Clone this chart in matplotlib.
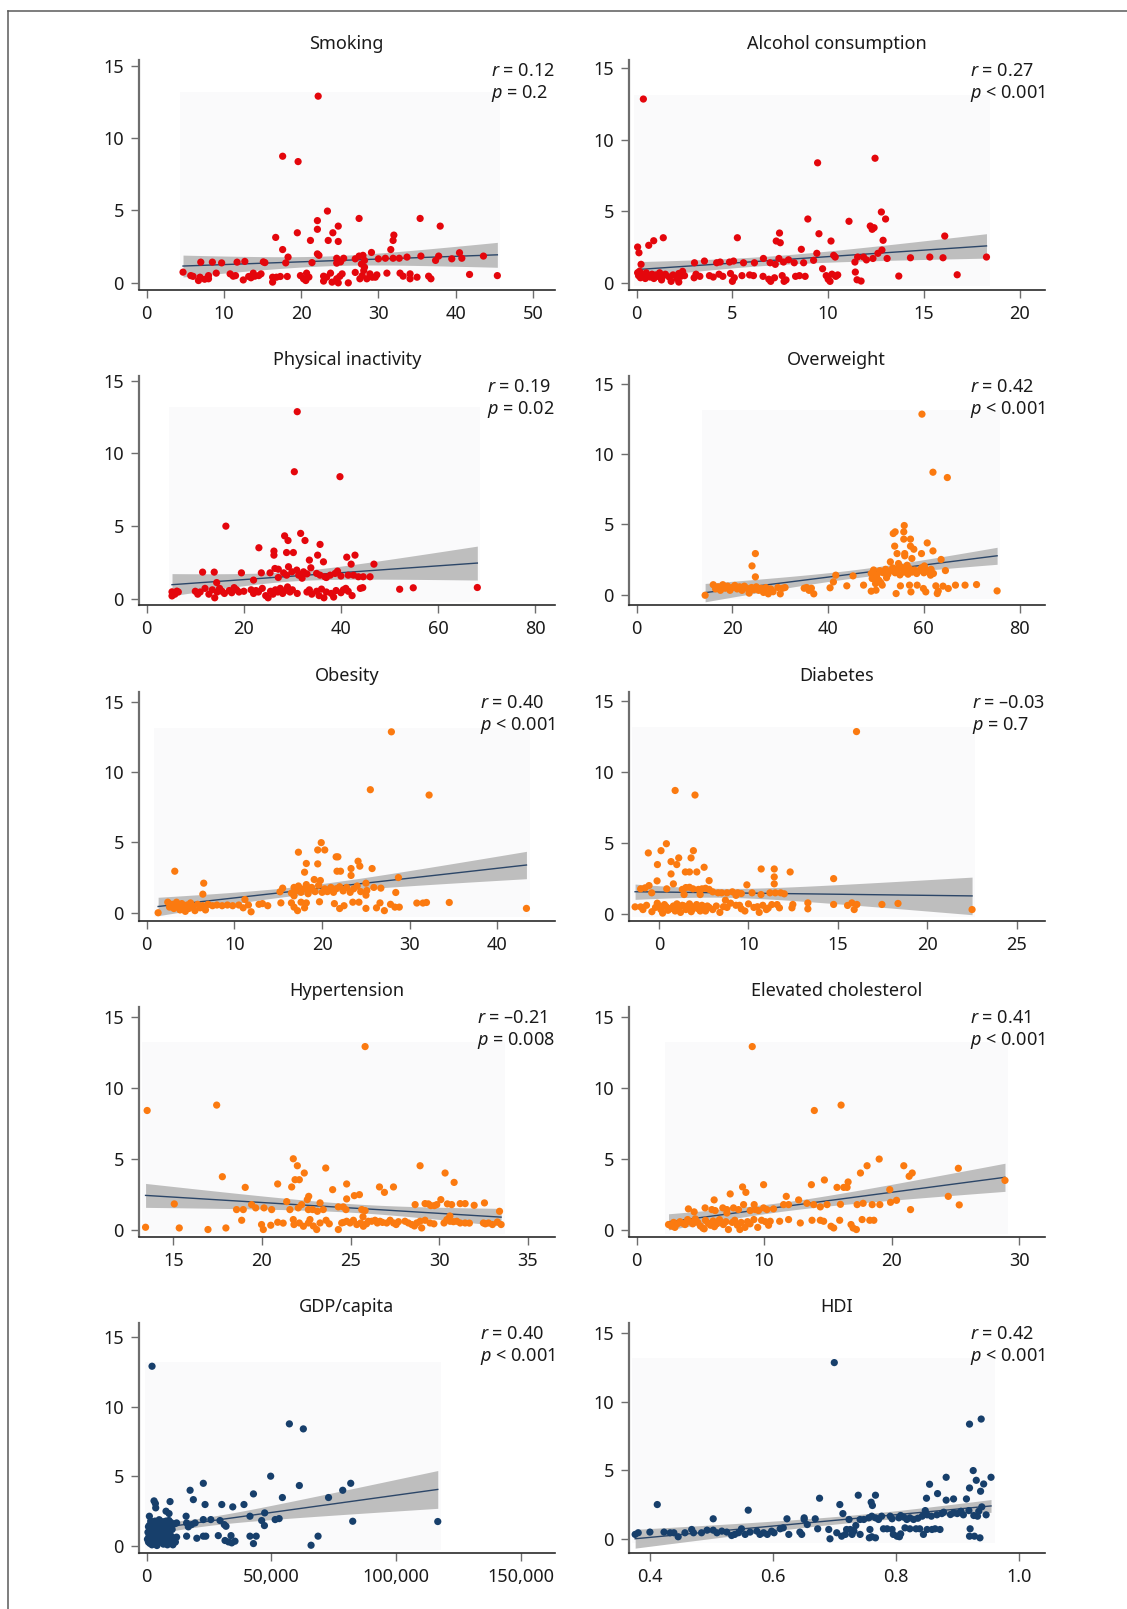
import numpy as np
import matplotlib
matplotlib.use("Agg")
import matplotlib.pyplot as plt
from matplotlib.lines import Line2D
from matplotlib.patches import Rectangle
from matplotlib.ticker import FuncFormatter

plt.rcParams["font.family"] = ["Noto Sans", "DejaVu Sans"]
plt.rcParams["mathtext.fontset"] = "custom"
plt.rcParams["mathtext.rm"] = "Noto Sans"
plt.rcParams["mathtext.it"] = "Noto Sans:italic"

# ---------------------------------------------------------------- data
smoking_x = [22.2, 17.6, 19.6, 23.4, 27.5, 35.4, 22.1, 38.0, 24.8, 22.1, 19.5, 24.1, 16.7, 32.0, 31.9,
             21.2, 23.5, 24.8, 17.6, 29.1, 31.6, 22.1, 40.5, 35.5, 37.8, 43.6, 18.3, 27.5, 27.0, 28.2,
             24.6, 25.5, 30.0, 30.9, 31.9, 32.7, 33.7, 39.5, 40.8, 37.4, 21.4, 18.0, 15.1, 25.1, 7.0,
             8.5, 9.7, 11.7, 12.7, 27.8, 28.2, 24.6, 28.0, 22.3, 15.3,
             4.7, 5.7, 6.0, 6.9, 6.7, 8.0, 9.0, 8.0, 10.8, 11.2, 11.5, 12.5, 13.2, 13.8, 14.0,
             14.5, 14.8, 16.3, 16.3, 16.8, 17.3, 18.2, 19.9, 20.3, 20.6, 20.7, 22.9, 22.9, 23.3, 23.8,
             24.0, 24.6, 24.8, 25.3, 26.1, 27.0, 27.6, 28.1, 28.5, 28.9, 29.2, 29.6, 31.1, 32.8, 33.2,
             34.1, 34.1, 35.0, 36.5, 36.8, 41.8, 45.4, 7.5, 13.5, 21.0, 25.0, 27.9, 29.8]
smoking_y = [12.9, 8.75, 8.38, 4.96, 4.45, 4.45, 4.3, 3.92, 3.92, 3.7, 3.46, 3.46, 3.14, 3.3, 2.93,
             2.93, 2.93, 2.86, 2.3, 2.1, 2.3, 2.0, 2.08, 1.85, 1.85, 1.85, 1.78, 1.85, 1.66, 1.55,
             1.7, 1.7, 1.66, 1.7, 1.7, 1.7, 1.78, 1.66, 1.7, 1.55, 1.4, 1.38, 1.45, 1.45, 1.43,
             1.43, 1.38, 1.43, 1.48, 1.3, 1.08, 1.36, 1.9, 1.9, 1.4,
             0.74, 0.5, 0.45, 0.39, 0.16, 0.28, 0.67, 0.5, 0.62, 0.46, 0.5, 0.2, 0.44, 0.67, 0.46,
             0.5, 0.62, 0.39, 0.05, 0.39, 0.44, 0.44, 0.5, 0.28, 0.16, 0.67, 0.46, 0.12, 0.39, 0.67,
             0.05, 0.28, 0.0, 0.62, 0.0, 0.72, 0.28, 0.85, 0.28, 0.62, 0.39, 0.39, 0.67, 0.67, 0.46,
             0.62, 0.28, 0.39, 0.46, 0.28, 0.58, 0.5, 0.25, 0.35, 0.4, 0.45, 0.5, 0.55]

alcohol_x = [0.35, 9.45, 12.45, 12.78, 13.0, 11.09, 8.94, 12.2, 12.3, 12.4, 9.52, 7.46, 5.26, 1.39, 0.89,
             0.63, 0.05, 0.12, 0.23, 7.29, 7.5, 10.15, 12.87, 16.09, 8.6, 9.41, 12.81, 12.6, 10.29, 10.37,
             11.54, 18.27, 15.31, 16.0, 14.3, 13.08, 12.34, 11.85, 7.43, 6.62, 9.24, 8.72, 8.23, 7.93, 7.67,
             7.24, 6.97, 6.15, 5.58, 5.06, 4.85, 4.36, 4.18, 3.54, 3.02, 9.71, 11.42, 13.69, 16.74, 11.51,
             11.72, 12.0, 11.4,
             0.05, 0.1, 0.15, 0.2, 0.3, 0.35, 0.45, 0.5, 0.6, 0.7, 0.8, 0.9, 1.0, 1.1, 1.2,
             1.3, 1.4, 1.5, 1.7, 1.8, 1.9, 2.1, 2.2, 2.3, 2.4, 2.5, 2.2, 3.0, 3.1, 3.3,
             3.8, 4.0, 4.3, 4.5, 4.9, 5.0, 5.1, 5.5, 5.9, 6.1, 6.6, 6.9, 7.0, 7.2, 7.6,
             7.8, 7.7, 8.3, 8.5, 8.8, 9.9, 10.0, 10.2, 10.1, 10.4, 10.5]
alcohol_y = [12.85, 8.39, 8.71, 4.95, 4.46, 4.3, 4.46, 3.97, 3.74, 3.85, 3.43, 3.48, 3.15, 3.15, 2.94,
             2.62, 2.5, 2.1, 1.29, 2.92, 2.8, 2.92, 2.97, 3.27, 2.34, 2.06, 2.29, 2.06, 1.92, 1.8,
             1.8, 1.8, 1.8, 1.75, 1.75, 1.7, 1.7, 1.8, 1.7, 1.7, 1.57, 1.4, 1.4, 1.61, 1.45,
             1.29, 1.4, 1.4, 1.4, 1.52, 1.45, 1.45, 1.4, 1.52, 1.4, 0.98, 0.75, 0.47, 0.56, 0.21,
             0.12, 1.6, 1.45,
             0.7, 0.5, 0.8, 0.35, 0.6, 0.45, 0.3, 0.7, 0.5, 0.4, 0.6, 0.3, 0.55, 0.45, 0.7,
             0.2, 0.5, 0.6, 0.4, 0.1, 0.55, 0.3, 0.65, 0.45, 0.8, 0.5, 0.05, 0.35, 0.6, 0.45,
             0.5, 0.4, 0.6, 0.45, 0.65, 0.1, 0.35, 0.5, 0.55, 0.5, 0.45, 0.25, 0.1, 0.35, 0.5,
             0.2, 0.1, 0.45, 0.5, 0.45, 0.5, 0.25, 0.6, 0.1, 0.45, 0.55]

inactivity_x = [31.0, 30.4, 39.8, 16.3, 28.4, 31.7, 29.1, 32.6, 23.1, 35.7, 26.2, 26.2, 28.8, 30.2, 42.9,
                41.2, 35.2, 33.5, 36.4, 46.8, 42.1, 33.8, 26.4, 29.2, 30.9, 11.5, 13.9, 19.5, 23.6, 25.4,
                27.1, 28.2, 28.8, 29.9, 32.3, 31.3, 35.0, 35.7, 36.7, 37.8, 38.8, 39.3, 41.5, 42.6, 43.6,
                44.6, 46.0, 27.1, 22.0, 14.4, 52.1, 54.9, 68.1, 32.0, 37.0, 40.0, 33.0,
                5.2, 5.2, 6.2, 5.8, 6.5, 10.0, 10.5, 11.0, 12.0, 12.8, 13.5, 14.0, 14.5, 15.0, 15.5,
                16.0, 17.0, 17.5, 18.0, 18.5, 19.0, 20.0, 21.5, 22.0, 22.5, 23.0, 23.8, 24.5, 25.0, 25.5,
                26.0, 26.5, 27.0, 27.5, 28.0, 28.5, 29.0, 29.5, 30.0, 31.0, 33.0, 33.5, 34.0, 35.0, 35.5,
                36.0, 36.5, 37.0, 38.0, 38.5, 39.0, 40.0, 40.5, 41.0, 41.5, 42.3, 44.0, 44.5]
inactivity_y = [12.88, 8.74, 8.4, 4.99, 4.32, 4.49, 4.0, 4.0, 3.5, 3.73, 3.27, 2.99, 3.17, 3.17, 2.99,
                2.85, 2.99, 2.65, 2.53, 2.37, 2.37, 2.12, 2.07, 2.19, 1.96, 1.82, 1.82, 1.77, 1.77, 1.77,
                2.02, 1.77, 1.61, 1.84, 1.84, 1.61, 1.73, 1.61, 1.5, 1.61, 1.73, 1.89, 1.61, 1.61, 1.5,
                1.5, 1.5, 1.45, 1.27, 1.1, 0.64, 0.74, 0.76, 1.4, 1.45, 1.55, 1.7,
                0.46, 0.18, 0.51, 0.3, 0.45, 0.5, 0.3, 0.45, 0.7, 0.3, 0.6, 0.05, 0.45, 0.7, 0.5,
                0.35, 0.55, 0.4, 0.75, 0.6, 0.45, 0.5, 0.6, 0.35, 0.55, 0.45, 0.7, 0.2, 0.05, 0.5,
                0.3, 0.6, 0.45, 0.7, 0.35, 0.55, 0.8, 0.45, 0.6, 0.35, 0.45, 0.6, 0.3, 0.5, 0.2,
                0.65, 0.05, 0.45, 0.35, 0.1, 0.55, 0.4, 0.6, 0.7, 0.5, 0.2, 0.7, 0.75]

overweight_x = [59.6, 61.9, 64.9, 55.9, 53.6, 54.0, 55.8, 55.8, 57.2, 53.9, 57.2, 57.9, 60.7, 61.9, 54.4,
                56.0, 59.5, 56.0, 57.5, 24.8, 24.1, 24.8, 63.6, 53.0, 54.7, 56.5, 60.1, 64.5, 61.4, 41.6,
                45.2, 47.4, 43.9, 41.1, 40.4, 49.0, 49.5, 50.2, 50.8, 51.5, 52.0, 52.5, 53.0, 53.5, 54.0,
                54.5, 55.0, 55.3, 55.8, 56.2, 56.7, 57.0, 57.5, 58.0, 58.5, 59.0, 59.5, 60.0, 60.5, 61.0,
                61.5, 62.0, 52.2, 50.3, 51.0,
                14.3, 16.0, 16.5, 17.0, 17.5, 18.0, 18.5, 19.0, 19.5, 20.0, 20.5, 21.0, 21.5, 22.0, 22.5,
                23.0, 23.5, 24.0, 24.5, 25.0, 25.5, 26.0, 26.5, 27.0, 27.5, 28.0, 28.5, 29.5, 30.0, 30.5,
                31.0, 35.0, 35.5, 36.0, 36.5, 37.0, 66.6, 68.6, 71.0, 75.3, 54.2, 57.3, 62.8, 65.1, 62.5,
                59.9, 60.4, 58.6, 57.0, 55.1, 49.0, 50.0, 49.9, 51.3, 49.2, 50.6, 64.0, 63.0]
overweight_y = [12.86, 8.72, 8.34, 4.92, 4.35, 4.47, 4.47, 3.95, 3.95, 3.45, 3.45, 3.23, 3.68, 3.11, 2.92,
                2.92, 2.92, 2.76, 2.57, 2.92, 2.04, 1.26, 2.5, 2.33, 2.21, 2.09, 2.04, 1.71, 1.38, 1.38,
                1.33, 0.67, 0.62, 0.9, 0.48, 1.5, 1.75, 1.4, 1.7, 1.55, 1.8, 1.45, 1.7, 1.9, 1.55,
                1.8, 1.4, 1.95, 1.6, 1.75, 1.45, 1.85, 1.6, 1.75, 1.5, 1.7, 1.9, 1.55, 1.75, 1.6,
                1.8, 1.5, 1.2, 1.0, 0.85,
                -0.05, 0.7, 0.4, 0.55, 0.3, 0.7, 0.45, 0.6, 0.3, 0.5, 0.65, 0.4, 0.55, 0.3, 0.6,
                0.45, 0.1, 0.5, 0.35, 0.55, 0.3, 0.45, 0.15, 0.5, 0.05, 0.4, 0.2, 0.5, 0.05, 0.45,
                0.5, 0.45, 0.5, 0.3, 0.45, 0.05, 0.67, 0.67, 0.71, 0.26, 0.07, 0.19, 0.07, 0.43, 0.62,
                0.43, 0.19, 0.67, 0.67, 0.62, 0.24, 0.31, 0.78, 0.67, 1.14, 1.02, 0.6, 0.25]

obesity_x = [27.9, 25.5, 32.2, 19.9, 19.5, 20.3, 17.3, 19.5, 18.2, 21.6, 21.8, 24.1, 24.3, 23.3, 25.7,
             21.7, 22.1, 18.0, 3.2, 23.3, 28.7, 19.1, 19.8, 6.5, 25.0, 6.4, 15.5, 15.2, 25.9, 26.7,
             28.4, 25.1, 25.0, 11.2,
             16.5, 16.8, 17.0, 17.3, 17.6, 17.9, 18.2, 18.5, 18.8, 19.2, 19.6, 20.0, 20.3, 20.6, 21.0,
             21.3, 21.6, 22.0, 22.4, 22.8, 23.2, 23.6, 24.0, 24.4, 16.8, 18.4,
             1.3, 2.4, 2.6, 2.9, 3.1, 3.4, 3.6, 3.8, 4.0, 4.2, 4.4, 4.6, 4.8, 5.0, 5.2,
             5.5, 5.8, 6.1, 6.4, 6.7, 7.0, 7.5, 8.0, 8.6, 9.2, 9.8, 10.5, 11.0, 11.6, 11.9,
             12.8, 13.2, 13.8, 15.3, 16.5, 16.8, 17.2, 17.6, 18.0, 18.2, 19.7, 21.4, 22.0, 22.5, 23.5,
             24.2, 25.0, 26.2, 26.6, 27.1, 27.8, 28.3, 28.8, 30.8, 31.5, 31.9, 34.5, 43.3]
obesity_y = [12.85, 8.74, 8.36, 4.98, 4.46, 4.46, 4.3, 3.47, 3.5, 3.97, 3.97, 3.66, 3.31, 3.14, 3.14,
             2.95, 2.95, 2.88, 2.95, 2.65, 2.5, 2.36, 2.29, 2.1, 2.1, 1.32, 1.75, 1.49, 1.8, 1.75,
             1.44, 1.58, 1.25, 0.94,
             1.4, 1.8, 1.55, 1.9, 1.45, 1.7, 2.0, 1.6, 1.8, 1.5, 1.95, 1.45, 1.7, 1.5, 1.8,
             1.45, 1.7, 1.85, 1.55, 1.8, 1.45, 1.7, 1.9, 1.5, 1.2, 1.35,
             0.0, 0.75, 0.4, 0.6, 0.3, 0.75, 0.5, 0.2, 0.65, 0.4, 0.1, 0.55, 0.3, 0.7, 0.45,
             0.15, 0.6, 0.35, 0.5, 0.2, 0.6, 0.5, 0.55, 0.5, 0.55, 0.5, 0.55, 0.35, 0.55, 0.07,
             0.6, 0.65, 0.5, 0.7, 0.7, 0.4, 0.15, 0.75, 0.35, 0.7, 0.78, 0.65, 0.3, 0.5, 0.75,
             0.75, 0.31, 0.35, 0.7, 0.15, 0.6, 0.4, 0.4, 0.69, 0.69, 0.73, 0.73, 0.31]

diabetes_x = [16.04, 5.9, 7.01, 5.41, 4.4, 5.11, 6.92, 6.1, 6.79, 5.67, 5.99, 4.91, 7.52, 10.71, 11.44,
              12.33, 6.47, 6.7, 7.11, 5.67, 11.44, 14.76, 4.89, 7.8, 11.44, 9.91, 5.8, 4.44, 4.22, 3.97,
              5.43, 4.59, 8.71,
              6.3, 6.5, 6.7, 6.9, 7.2, 7.4, 7.6, 7.8, 6.4, 7.3,
              8.0, 8.3, 8.5, 8.8, 9.1, 9.4, 9.6, 10.2, 10.7, 11.2, 11.5, 11.8, 12.0, 9.3,
              3.66, 3.97, 4.9, 5.0, 5.1, 5.2, 5.4, 5.6, 5.8, 5.9, 6.1, 6.3, 6.5, 6.7, 6.8,
              7.0, 7.2, 7.4, 7.6, 7.8, 8.2, 8.4, 8.6, 9.0, 9.3, 9.6, 10.0, 10.3, 10.6, 10.8,
              11.0, 11.3, 11.6, 13.32, 13.32, 12.48, 12.43, 11.73, 14.76, 15.54, 15.78, 16.06, 15.91, 17.46, 18.36,
              22.5,
              4.1, 4.3, 4.6, 4.8, 5.3, 5.5, 5.7, 6.0, 6.2, 6.4, 6.6, 6.9, 7.1, 7.3, 7.5,
              7.7, 8.0, 8.8, 9.5, 9.8, 10.5, 11.1]
diabetes_y = [12.84, 8.69, 8.37, 4.94, 4.29, 4.45, 4.45, 3.94, 3.94, 3.68, 3.47, 3.47, 3.28, 3.16, 3.16,
              2.95, 2.95, 2.95, 2.95, 2.81, 2.6, 2.48, 2.32, 2.34, 2.11, 2.04, 2.11, 1.99, 1.83, 1.76,
              1.76, 1.48, 0.96,
              1.72, 1.85, 1.87, 1.76, 1.72, 1.76, 1.8, 1.72, 1.36, 1.36,
              1.55, 1.48, 1.48, 1.48, 1.55, 1.48, 1.43, 1.48, 1.36, 1.48, 1.48, 1.48, 1.41, 1.3,
              0.49, 0.49, 0.75, 0.55, 0.3, 0.05, 0.5, 0.35, 0.55, 0.2, 0.45, 0.6, 0.3, 0.7, 0.15,
              0.5, 0.35, 0.6, 0.2, 0.45, 0.55, 0.1, 0.5, 0.75, 0.6, 0.35, 0.7, 0.45, 0.1, 0.6,
              0.3, 0.65, 0.65, 0.77, 0.35, 0.66, 0.42, 0.42, 0.66, 0.59, 0.77, 0.66, 0.3, 0.66, 0.73,
              0.3,
              0.3, 0.6, 0.15, 0.45, 0.65, 0.25, 0.4, 0.7, 0.1, 0.55, 0.45, 0.35, 0.65, 0.2, 0.4,
              0.55, 0.3, 0.45, 0.6, 0.2, 0.5, 0.4]

hypertension_x = [25.82, 13.53, 17.45, 21.77, 22.0, 28.92, 23.6, 22.39, 30.33, 17.77, 21.87, 22.11, 30.84, 24.78, 20.89,
                  19.06, 21.68, 26.63, 27.42, 23.99, 26.91, 25.5, 25.21, 22.64, 22.56, 24.78, 30.09, 21.4, 15.06, 19.42,
                  23.28, 28.64, 29.2, 29.39, 29.86, 30.46, 30.7, 31.18, 31.46, 31.97, 32.55, 29.73, 29.52, 18.57, 18.95,
                  19.65, 20.12, 20.55, 21.58, 22.05, 22.24, 22.62, 22.86, 23.13, 23.46, 24.31, 24.74, 24.59, 25.63, 25.82,
                  33.4, 18.86, 20.89, 13.44, 15.34, 16.96, 17.97, 19.98, 20.08, 30.6, 25.7,
                  21.77, 21.81, 22.11, 22.34, 22.62, 22.71, 23.09, 23.28, 23.62, 24.31, 24.5, 24.78, 24.97, 25.16, 25.35,
                  25.57, 25.72, 26.0, 26.19, 26.38, 26.51, 26.66, 27.04, 27.23, 27.42, 27.57, 28.07, 28.26, 28.45, 28.73,
                  28.92, 29.01, 29.2, 29.48, 30.27, 30.43, 30.61, 30.99, 31.18, 31.46, 32.49, 32.78, 33.28, 33.49,
                  20.5, 21.2, 22.9, 23.8, 24.6, 25.9, 26.8, 27.7, 28.6, 29.7, 30.8, 31.7, 32.6, 33.0]
hypertension_y = [12.9, 8.41, 8.79, 5.02, 4.53, 4.53, 4.37, 4.02, 4.02, 3.76, 3.55, 3.55, 3.36, 3.25, 3.25,
                  3.01, 3.04, 3.04, 3.04, 2.85, 2.66, 2.5, 2.43, 2.38, 2.15, 2.2, 2.15, 2.01, 1.85, 1.8,
                  1.92, 1.8, 1.87, 1.85, 1.8, 1.85, 1.8, 1.87, 1.87, 1.75, 1.92, 1.73, 1.73, 1.45, 1.45,
                  1.57, 1.57, 1.45, 1.45, 1.57, 1.8, 1.45, 1.45, 1.33, 1.45, 1.64, 1.45, 1.64, 1.45, 1.38,
                  1.33, 0.7, 0.56, 0.21, 0.16, 0.05, 0.16, 0.4, 0.05, 1.0, 0.95,
                  0.75, 0.4, 0.51, 0.28, 0.51, 0.75, 0.05, 0.51, 0.7, 0.05, 0.51, 0.63, 0.51, 0.7, 0.4,
                  0.51, 0.28, 0.63, 0.63, 0.7, 0.51, 0.63, 0.51, 0.7, 0.51, 0.4, 0.63, 0.51, 0.4, 0.51,
                  0.63, 0.16, 0.7, 0.51, 0.51, 0.75, 0.63, 0.63, 0.51, 0.51, 0.51, 0.51, 0.58, 0.4,
                  0.35, 0.5, 0.3, 0.45, 0.55, 0.45, 0.55, 0.6, 0.3, 0.45, 0.6, 0.5, 0.45, 0.4]

cholesterol_x = [9.07, 13.94, 16.04, 19.03, 20.96, 18.08, 25.24, 17.56, 21.62, 21.38, 14.73, 28.9, 16.59, 13.71, 9.96,
                 15.72, 16.25, 16.51, 8.31, 19.86, 8.57, 7.34, 24.45, 11.74, 6.08, 12.71, 20.39, 19.92, 25.31, 15.99,
                 14.94, 13.36, 13.89, 17.3, 17.77, 18.48, 19.08, 11.92, 11.53, 9.22, 8.39, 21.49, 14.41, 10.74,
                 4.06, 4.51, 5.37, 5.9, 6.16, 6.76, 7.08, 7.6, 7.99, 8.91, 9.3, 9.56, 9.96, 10.22, 7.08,
                 12.84, 13.76, 14.41, 14.67, 15.93, 15.25, 15.46, 16.82, 16.98, 17.24, 17.69, 18.29, 18.61, 11.22, 10.48,
                 10.35, 11.92,
                 2.5, 2.7, 2.9, 3.0, 3.2, 3.4, 3.6, 3.8, 4.0, 4.2, 4.4, 4.6, 4.8, 5.0, 5.2,
                 5.4, 5.6, 5.8, 6.0, 6.3, 6.5, 6.8, 7.0, 7.2, 7.5, 7.7, 7.9, 8.1, 8.2, 8.5,
                 8.7, 8.9, 9.2, 9.5, 9.8, 10.1, 5.3, 6.1]
cholesterol_y = [12.9, 8.41, 8.79, 5.0, 4.53, 4.53, 4.35, 4.02, 4.02, 3.79, 3.53, 3.5, 3.39, 3.2, 3.2,
                 3.01, 3.01, 3.01, 3.04, 2.85, 2.66, 2.55, 2.38, 2.38, 2.13, 2.13, 2.1, 1.96, 1.78, 1.82,
                 1.8, 1.89, 1.8, 1.8, 1.89, 1.8, 1.8, 1.8, 1.8, 1.8, 1.8, 1.45, 1.64, 1.5,
                 1.5, 1.29, 1.57, 1.45, 1.38, 1.57, 1.45, 1.57, 1.45, 1.38, 1.45, 1.38, 1.57, 1.45, 1.21,
                 0.51, 0.7, 0.7, 0.63, 0.7, 0.28, 0.16, 0.4, 0.16, 0.05, 0.75, 0.7, 0.7, 0.63, 0.63,
                 0.35, 0.75,
                 0.4, 0.3, 0.55, 0.2, 0.45, 0.6, 0.5, 0.4, 0.75, 0.6, 0.45, 0.8, 0.55, 0.3, 0.15,
                 0.7, 0.5, 0.35, 0.65, 0.45, 0.75, 0.4, 0.6, 0.05, 0.55, 0.7, 0.35, 0.05, 0.55, 0.2,
                 0.6, 0.45, 0.75, 0.2, 0.7, 0.6, 0.1, 0.25]

gdp_x = [2140, 57200, 62800, 49700, 22700, 61200, 81800, 42800, 17400, 78600, 54400, 72900, 18700, 2940, 3480,
         9360, 3610, 23400, 30100, 34500, 39000, 7750, 8960, 47300, 1070, 15800, 41400, 25700, 22700, 51500,
         53100, 29400, 46100, 82600, 116700, 31100, 31800, 47200, 16000, 18000, 16700, 19400, 12000, 68700, 65900,
         42800, 41400, 43900, 33800, 28700, 22700, 23700, 20100, 16000, 31400, 32800, 34100, 35400,
         300, 500, 700, 900, 1100, 1300, 1500, 1700, 1900, 2100, 2300, 2500, 2700, 2900, 3100,
         3300, 3500, 3700, 3900, 4100, 4300, 4500, 4700, 4900, 5100, 5300, 5500, 5700, 5900, 6100,
         6300, 6500, 6700, 6900, 7100, 7300, 7500, 7700, 7900, 8100, 8300, 8500, 8700, 8900, 9100,
         9300, 9500, 9700, 9900, 10200, 10500, 10800, 11100, 11500, 12000, 700, 1600, 2800, 4000, 5000,
         6000, 7000]
gdp_y = [12.9, 8.77, 8.41, 5.02, 4.51, 4.35, 4.51, 3.75, 4.01, 4.01, 3.49, 3.49, 3.34, 3.25, 3.06,
         3.2, 2.75, 2.99, 2.99, 2.82, 2.99, 2.51, 2.34, 2.39, 2.15, 2.15, 2.15, 1.91, 1.91, 1.91,
         1.98, 1.84, 1.84, 1.79, 1.77, 1.55, 1.43, 1.48, 1.67, 1.55, 1.39, 1.67, 1.67, 0.72, 0.07,
         0.19, 0.72, 0.72, 0.76, 0.76, 0.72, 0.72, 0.57, 0.72, 0.41, 0.31, 0.24, 0.36,
         0.5, 1.0, 0.3, 0.7, 1.5, 0.2, 0.9, 0.5, 1.2, 0.1, 0.8, 1.6, 0.4, 1.0, 0.6,
         1.8, 0.2, 1.3, 0.7, 0.05, 1.1, 1.7, 0.4, 0.9, 1.4, 0.6, 1.8, 0.3, 1.0, 1.6,
         0.5, 1.2, 0.15, 1.75, 0.8, 1.4, 0.4, 1.8, 0.7, 1.1, 0.1, 1.5, 0.6, 1.85, 0.3,
         1.3, 0.8, 1.7, 0.5, 1.2, 0.1, 0.6, 1.6, 0.3, 0.65, 1.4, 1.8, 1.5, 0.3, 1.9,
         0.85, 0.55]

hdi_x = [0.700, 0.920, 0.939, 0.926, 0.955, 0.882, 0.931, 0.855, 0.943, 0.920, 0.938, 0.868, 0.739, 0.767, 0.676,
         0.850, 0.882, 0.894, 0.915, 0.760, 0.762, 0.709, 0.412, 0.560, 0.940, 0.935, 0.919, 0.906, 0.894, 0.878,
         0.848, 0.947, 0.503, 0.623, 0.651, 0.651, 0.669, 0.714, 0.724, 0.735, 0.742,
         0.748, 0.756, 0.761, 0.767, 0.772, 0.777, 0.791, 0.794, 0.805, 0.808, 0.813, 0.818, 0.823, 0.829, 0.836,
         0.843, 0.851, 0.858, 0.867, 0.875, 0.889, 0.900, 0.910, 0.927, 0.933,
         0.376, 0.381, 0.400, 0.423, 0.433, 0.439, 0.446, 0.457, 0.468, 0.471, 0.484, 0.493, 0.503, 0.509, 0.517,
         0.525, 0.533, 0.538, 0.544, 0.549, 0.555, 0.563, 0.574, 0.579, 0.585, 0.591, 0.598, 0.602, 0.612, 0.617,
         0.626, 0.644, 0.647, 0.656, 0.673, 0.691, 0.693, 0.704, 0.712, 0.718, 0.720, 0.726, 0.729, 0.732, 0.742,
         0.758, 0.757, 0.761, 0.767, 0.780, 0.786, 0.794, 0.796, 0.802, 0.806, 0.808, 0.815, 0.823, 0.833, 0.839,
         0.845, 0.851, 0.859, 0.864, 0.872, 0.921, 0.920, 0.928, 0.937]
hdi_y = [12.86, 8.37, 8.74, 4.98, 4.49, 4.49, 4.27, 3.98, 4.0, 3.71, 3.47, 3.3, 3.18, 3.18, 2.96,
         2.96, 2.82, 2.91, 2.91, 2.67, 2.43, 2.5, 2.5, 2.09, 2.33, 2.01, 2.06, 2.01, 1.89, 1.94,
         2.06, 1.75, 1.46, 1.46, 1.53, 1.41, 1.46, 1.84, 1.41, 0.97, 1.41,
         1.41, 1.53, 1.65, 1.53, 1.41, 1.65, 1.65, 1.46, 1.53, 1.7, 1.58, 1.41, 1.53, 1.41, 1.5,
         1.65, 1.75, 1.65, 1.75, 1.84, 1.77, 1.84, 1.75, 1.7, 1.65,
         0.32, 0.44, 0.49, 0.49, 0.44, 0.44, 0.15, 0.44, 0.68, 0.44, 0.44, 0.63, 0.63, 0.44, 0.56,
         0.49, 0.24, 0.32, 0.44, 0.73, 0.32, 0.49, 0.56, 0.32, 0.44, 0.32, 0.56, 0.44, 0.73, 0.8,
         0.32, 0.49, 0.32, 1.04, 0.73, 0.68, 0.0, 0.44, 0.19, 0.32, 0.68, 0.68, 0.32, 0.56, 0.32,
         0.68, 0.07, 0.15, 0.07, 0.73, 0.73, 0.68, 0.32, 0.19, 0.15, 0.36, 0.8, 0.73, 0.73, 0.73,
         0.32, 0.68, 0.68, 0.73, 0.68, 0.73, 0.19, 0.19, 0.07]

titles = ["Smoking", "Alcohol consumption", "Physical inactivity", "Overweight", "Obesity",
          "Diabetes", "Hypertension", "Elevated cholesterol", "GDP/capita", "HDI"]
r_labels = ["0.12", "0.27", "0.19", "0.42", "0.40", "\u20130.03", "\u20130.21", "0.41", "0.40", "0.42"]
p_labels = ["= 0.2", "< 0.001", "= 0.02", "< 0.001", "< 0.001", "= 0.7", "= 0.008", "< 0.001", "< 0.001", "< 0.001"]
y_ticks = [0, 5, 10, 15]

RED, ORANGE, NAVY = "#e4060c", "#fb7a10", "#173f6b"

panels = [
    dict(x=smoking_x, y=smoking_y, c=RED, xlim=(-1.0, 52.8), ylim=(-0.46, 15.4),
         xt=[0, 10, 20, 30, 40, 50], xl=None),
    dict(x=alcohol_x, y=alcohol_y, c=RED, xlim=(-0.4, 21.3), ylim=(-0.47, 15.58),
         xt=[0, 5, 10, 15, 20], xl=None),
    dict(x=inactivity_x, y=inactivity_y, c=RED, xlim=(-1.6, 84.0), ylim=(-0.46, 15.36),
         xt=[0, 20, 40, 60, 80], xl=None),
    dict(x=overweight_x, y=overweight_y, c=ORANGE, xlim=(-1.6, 85.2), ylim=(-0.76, 15.6),
         xt=[0, 20, 40, 60, 80], xl=None),
    dict(x=obesity_x, y=obesity_y, c=ORANGE, xlim=(-0.88, 46.5), ylim=(-0.6, 15.7),
         xt=[0, 10, 20, 30, 40], xl=None),
    dict(x=diabetes_x, y=diabetes_y, c=ORANGE, xlim=(3.32, 26.55), ylim=(-0.52, 15.65),
         xt=[5, 10, 15, 20, 25], xl=["0", "10", "15", "20", "25"]),
    dict(x=hypertension_x, y=hypertension_y, c=ORANGE, xlim=(13.07, 36.5), ylim=(-0.44, 15.68),
         xt=[15, 20, 25, 30, 35], xl=None),
    dict(x=cholesterol_x, y=cholesterol_y, c=ORANGE, xlim=(-0.6, 32.0), ylim=(-0.44, 15.68),
         xt=[0, 10, 20, 30], xl=None),
    dict(x=gdp_x, y=gdp_y, c=NAVY, xlim=(-3088, 163500), ylim=(-0.45, 16.0),
         xt=[0, 50000, 100000, 150000], xl=None),
    dict(x=hdi_x, y=hdi_y, c=NAVY, xlim=(0.366, 1.042), ylim=(-1.0, 15.75),
         xt=[0.4, 0.6, 0.8, 1.0], xl=None),
]

# ---------------------------------------------------------------- figure
W, H = 1127, 1609
fig = plt.figure(figsize=(W / 100, H / 100), dpi=100)

# frame lines along the top and left edge
fig.add_artist(Line2D([8 / W, 1], [1 - 11 / H, 1 - 11 / H], transform=fig.transFigure,
                      color="#5a5a5a", lw=1.1))
fig.add_artist(Line2D([8 / W, 8 / W], [0, 1 - 11 / H], transform=fig.transFigure,
                      color="#5a5a5a", lw=1.1))

col_left = [139, 629]
ax_w = 415.5
row_top = [60, 375.7, 691.7, 1007, 1323]
ax_h = 229.5

FS = 13


def fit_band(x, y):
    x = np.asarray(x, float)
    y = np.asarray(y, float)
    n = len(x)
    b, a = np.polyfit(x, y, 1)
    resid = y - (a + b * x)
    s = np.sqrt(np.sum(resid ** 2) / (n - 2))
    xm = x.mean()
    sxx = np.sum((x - xm) ** 2)
    xs = np.linspace(x.min(), x.max(), 100)
    yhat = a + b * xs
    se = s * np.sqrt(1.0 / n + (xs - xm) ** 2 / sxx)
    return xs, yhat, yhat - 1.97 * se, yhat + 1.97 * se


for i, pnl in enumerate(panels):
    row, col = divmod(i, 2)
    left = col_left[col] / W
    bottom = 1 - (row_top[row] + ax_h) / H
    ax = fig.add_axes([left, bottom, ax_w / W, ax_h / H])
    x = np.asarray(pnl["x"], float)
    y = np.asarray(pnl["y"], float)

    # faint plot region behind the data
    xr = x.max() - x.min()
    ax.add_patch(Rectangle((x.min() - 0.01 * xr, y.min() - 0.3), 1.02 * xr,
                           y.max() - y.min() + 0.6, facecolor="#fafafb",
                           edgecolor="none", zorder=0))

    xs, yh, lo, hi = fit_band(x, y)
    ax.fill_between(xs, lo, hi, color="#b8b8b8", alpha=0.9, lw=0, zorder=2)
    ax.plot(xs, yh, color="#2c4668", lw=1.0, zorder=3)
    ax.scatter(x, y, s=27, color=pnl["c"], edgecolors="none", zorder=4)

    ax.set_xlim(*pnl["xlim"])
    ax.set_ylim(*pnl["ylim"])
    ax.set_yticks(y_ticks)
    if pnl["xl"] is not None:
        ax.set_xticks(pnl["xt"], labels=pnl["xl"])
    else:
        ax.set_xticks(pnl["xt"])
    if i == 8:
        ax.xaxis.set_major_formatter(FuncFormatter(lambda v, _: f"{int(v):,}"))
    elif i == 9:
        ax.xaxis.set_major_formatter(FuncFormatter(lambda v, _: f"{v:.1f}"))

    ax.set_facecolor("none")
    for side in ("top", "right"):
        ax.spines[side].set_visible(False)
    ax.spines["left"].set_color("#6e6e6e")
    ax.spines["left"].set_linewidth(1.6)
    ax.spines["bottom"].set_color("#2a2a2a")
    ax.spines["bottom"].set_linewidth(1.2)
    ax.tick_params(axis="both", direction="out", length=6, width=1.0, color="#6e6e6e",
                   labelsize=FS, labelcolor="#1a1a1a", pad=5)

    ax.set_title(titles[i], fontsize=FS, color="#1a1a1a", pad=8)
    ax.text(1.0, 0.992, f"$r$ = {r_labels[i]}\n$p$ {p_labels[i]}", transform=ax.transAxes,
            ha="right", va="top", multialignment="left", fontsize=FS, color="#1a1a1a",
            linespacing=1.2)

fig.savefig("out.png", dpi=100, facecolor="white")
